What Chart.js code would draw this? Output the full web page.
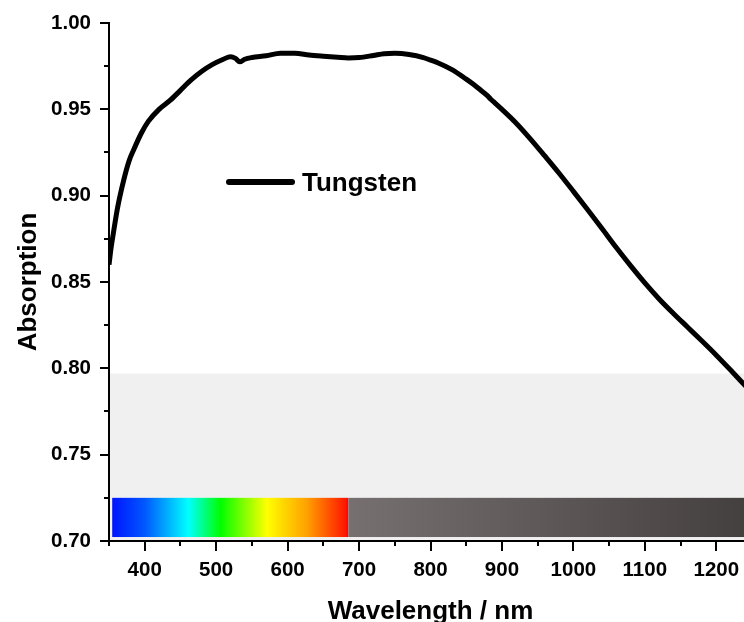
<!DOCTYPE html>
<html>
<head>
<meta charset="utf-8">
<script src="https://cdn.jsdelivr.net/npm/chart.js@4.4.1/dist/chart.umd.min.js"></script>
<style>
  html, body { margin: 0; padding: 0; background: #fff; overflow: hidden; }
  #wrap { width: 744px; height: 622px; overflow: hidden; position: relative; }
  canvas { display: block; }
</style>
</head>
<body>
<div id="wrap"><canvas id="c" width="760" height="622"></canvas></div>
<script>
// ---------- data ----------
const seriesLabel = 'Tungsten';
const wavelengths = [350, 353, 356, 362, 370, 378, 385, 395, 405, 420, 435, 450, 465, 480, 495, 510, 520, 527, 533, 540, 550, 570, 590, 610, 630, 650, 670, 685, 700, 720, 735, 750, 770, 790, 800, 810, 830, 850, 860, 870, 880, 884, 890, 900, 920, 940, 960, 980, 1000, 1020, 1040, 1060, 1080, 1100, 1120, 1140, 1160, 1180, 1200, 1220, 1240, 1250];
const absorption  = [0.860, 0.870, 0.878, 0.893, 0.908, 0.920, 0.927, 0.936, 0.943, 0.950, 0.955, 0.961, 0.967, 0.972, 0.976, 0.979, 0.9805, 0.9795, 0.9775, 0.979, 0.980, 0.981, 0.9825, 0.9825, 0.9815, 0.9808, 0.9802, 0.9798, 0.9800, 0.9812, 0.9822, 0.9825, 0.9818, 0.9800, 0.9785, 0.9770, 0.9730, 0.9675, 0.9645, 0.9612, 0.9578, 0.9560, 0.9538, 0.9500, 0.9420, 0.9328, 0.9230, 0.9130, 0.9025, 0.8918, 0.8810, 0.8700, 0.8595, 0.8495, 0.8402, 0.8318, 0.8238, 0.8158, 0.8076, 0.7990, 0.7902, 0.7858];

const xRange = [350, 1250];
const yRange = [0.70, 1.00];
const xTickValues = [350, 400, 450, 500, 550, 600, 650, 700, 750, 800, 850, 900, 950, 1000, 1050, 1100, 1150, 1200, 1250];
const xTickLabels = ['400', '500', '600', '700', '800', '900', '1000', '1100', '1200'];
const yTickValues = [0.70, 0.725, 0.75, 0.775, 0.80, 0.825, 0.85, 0.875, 0.90, 0.925, 0.95, 0.975, 1.00];
const yTickLabels = ['0.70', '0.75', '0.80', '0.85', '0.90', '0.95', '1.00'];

// shaded region and spectrum bar (data units)
const shadeRange = [0.70, 0.797];
const barRange = [0.7023, 0.725];
const rainbowWavelengths = [354.5, 400, 461, 506, 571, 627, 680, 685];
const rainbowColors = ['#0014ff', '#0058ff', '#00ffff', '#00ff00', '#ffff00', '#ffa000', '#ff1a00', '#ff0000'];
const nirWavelengths = [685, 1250];
const nirColors = ['#767170', '#433f3e'];

// ---------- plugins ----------
const FONT = '"Liberation Sans", Arial, Helvetica, sans-serif';

function isMajorY(v) {
  return yTickLabels.includes(Number(v).toFixed(2)) && Math.abs(v * 20 - Math.round(v * 20)) < 1e-6;
}

const backgroundPlugin = {
  id: 'bands',
  beforeDraw(chart) {
    const {ctx, chartArea: a, scales: {x, y}} = chart;
    ctx.save();
    ctx.fillStyle = '#f0f0f0';
    const yTop = y.getPixelForValue(shadeRange[1]);
    const yBot = y.getPixelForValue(shadeRange[0]);
    ctx.fillRect(a.left, yTop, a.right - a.left, yBot - yTop);
    const bTop = y.getPixelForValue(barRange[1]);
    const bBot = y.getPixelForValue(barRange[0]);
    const r0 = x.getPixelForValue(rainbowWavelengths[0]);
    const r1 = x.getPixelForValue(rainbowWavelengths[rainbowWavelengths.length - 1]);
    const g = ctx.createLinearGradient(r0, 0, r1, 0);
    rainbowWavelengths.forEach((w, i) => g.addColorStop((x.getPixelForValue(w) - r0) / (r1 - r0), rainbowColors[i]));
    ctx.fillStyle = g;
    ctx.fillRect(r0, bTop, r1 - r0, bBot - bTop);
    const n0 = x.getPixelForValue(nirWavelengths[0]);
    const n1 = x.getPixelForValue(nirWavelengths[1]);
    const g2 = ctx.createLinearGradient(n0, 0, n1, 0);
    g2.addColorStop(0, nirColors[0]);
    g2.addColorStop(1, nirColors[1]);
    ctx.fillStyle = g2;
    ctx.fillRect(n0, bTop, n1 - n0, bBot - bTop);
    ctx.restore();
  }
};

const ticksPlugin = {
  id: 'ticksAndLegend',
  afterDraw(chart) {
    const {ctx, chartArea: a, scales: {x, y}} = chart;
    ctx.save();
    ctx.strokeStyle = '#000';
    ctx.lineWidth = 2;
    ctx.lineCap = 'butt';
    ctx.beginPath();
    x.ticks.forEach(t => {
      const major = xTickLabels.includes(String(t.value));
      const px = Math.round(x.getPixelForValue(t.value));
      ctx.moveTo(px, a.bottom);
      ctx.lineTo(px, a.bottom + (major ? 10 : 5));
    });
    y.ticks.forEach(t => {
      const py = Math.round(y.getPixelForValue(t.value));
      ctx.moveTo(a.left, py);
      ctx.lineTo(a.left - (isMajorY(t.value) ? 9 : 5), py);
    });
    ctx.stroke();

    // legend inside plot
    const lx = a.left + 120, ly = a.top + 159;
    ctx.lineWidth = 6;
    ctx.lineCap = 'round';
    ctx.beginPath();
    ctx.moveTo(lx, ly);
    ctx.lineTo(lx + 63, ly);
    ctx.stroke();
    ctx.fillStyle = '#000';
    ctx.font = 'bold 26px ' + FONT;
    ctx.textBaseline = 'alphabetic';
    ctx.textAlign = 'left';
    ctx.fillText(chart.data.datasets[0].label, lx + 73, ly + 9);
    ctx.restore();
  }
};

// ---------- chart ----------
new Chart(document.getElementById('c'), {
  type: 'line',
  data: {
    datasets: [{
      label: seriesLabel,
      data: wavelengths.map((w, i) => ({x: w, y: absorption[i]})),
      borderColor: '#000',
      borderWidth: 5,
      pointRadius: 0,
      cubicInterpolationMode: 'monotone',
      fill: false
    }]
  },
  options: {
    responsive: false,
    devicePixelRatio: 1,
    animation: false,
    layout: { padding: { top: 23, right: 8, bottom: 0, left: 0 } },
    plugins: { legend: { display: false }, tooltip: { enabled: false } },
    scales: {
      x: {
        type: 'linear',
        min: xRange[0],
        max: xRange[1],
        afterBuildTicks: s => { s.ticks = xTickValues.map(v => ({value: v})); },
        afterFit: s => { s.height = 81; },
        ticks: {
          autoSkip: false,
          maxRotation: 0,
          color: '#000',
          padding: 7,
          font: { family: FONT, size: 20.5, weight: 'bold' },
          callback: v => xTickLabels.includes(String(v)) ? String(v) : ''
        },
        grid: { drawOnChartArea: false, drawTicks: true, tickLength: 10, tickColor: 'rgba(0,0,0,0)' },
        border: { display: true, color: '#000', width: 2 },
        title: {
          display: true,
          text: 'Wavelength / nm',
          color: '#000',
          padding: 0,
          font: { family: FONT, size: 26, weight: 'bold', lineHeight: 0.8 }
        }
      },
      y: {
        type: 'linear',
        min: yRange[0],
        max: yRange[1],
        afterBuildTicks: s => { s.ticks = yTickValues.map(v => ({value: v})); },
        afterFit: s => { s.width = 109; },
        ticks: {
          autoSkip: false,
          color: '#000',
          padding: 9,
          font: { family: FONT, size: 20.5, weight: 'bold' },
          callback: v => isMajorY(v) ? Number(v).toFixed(2) : ''
        },
        grid: { drawOnChartArea: false, drawTicks: true, tickLength: 9, tickColor: 'rgba(0,0,0,0)' },
        border: { display: true, color: '#000', width: 2 },
        title: {
          display: true,
          text: 'Absorption',
          color: '#000',
          padding: { top: 16, bottom: 0 },
          font: { family: FONT, size: 26, weight: 'bold', lineHeight: 1 }
        }
      }
    }
  },
  plugins: [backgroundPlugin, ticksPlugin]
});
</script>
</body>
</html>
